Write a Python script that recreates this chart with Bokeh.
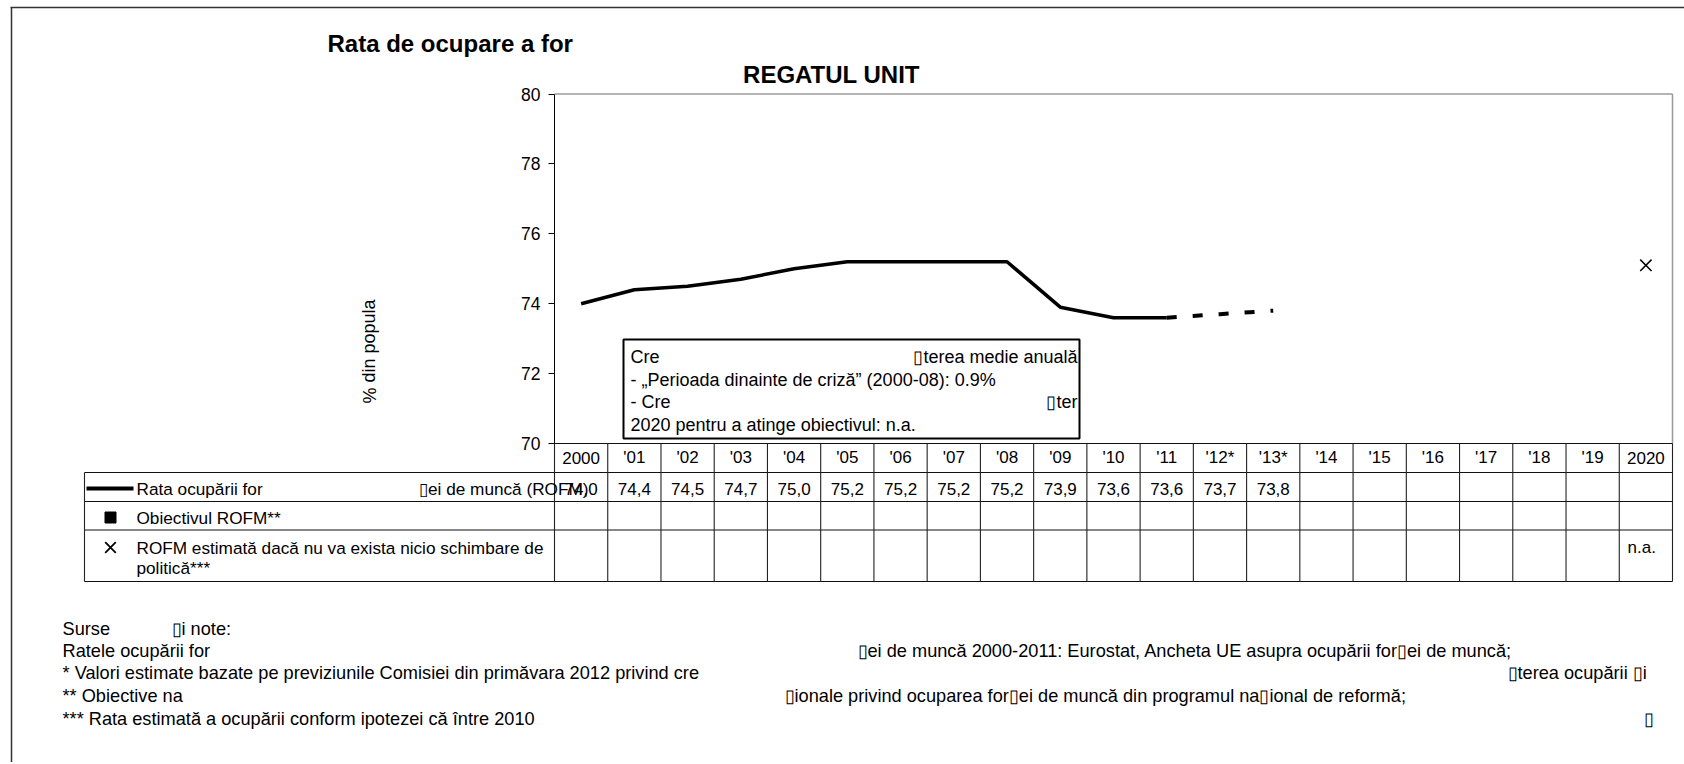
from bokeh.plotting import figure
from bokeh.models import Range1d, LinearAxis, FixedTicker, ColumnDataSource
from bokeh.core.properties import value
from bokeh.embed import file_html
from bokeh.resources import INLINE

# ---------------- data ----------------
years = ["2000", "'01", "'02", "'03", "'04", "'05", "'06", "'07", "'08", "'09",
         "'10", "'11", "'12*", "'13*", "'14", "'15", "'16", "'17", "'18", "'19", "2020"]
rofm_values = [74.0, 74.4, 74.5, 74.7, 75.0, 75.2, 75.2, 75.2, 75.2, 73.9,
               73.6, 73.6, 73.7, 73.8]
last_actual_year = "'11"
no_change_year = "2020"
no_change_value = 75.1
no_change_table_text = "n.a."
y_ticks = [70, 72, 74, 76, 78, 80]

title_text = "Rata de ocupare a for"
country_text = "REGATUL UNIT"
y_label = "% din popula"
legend_texts = ["Rata ocupării for", "\u25afei de muncă (ROFM)", "Obiectivul ROFM**",
                "ROFM estimată dacă nu va exista nicio schimbare de", "politică***"]
box_left_texts = ["Cre", "- „Perioada dinainte de criză” (2000-08): 0.9%", "- Cre",
                  "2020 pentru a atinge obiectivul: n.a."]
box_right_texts = ["\u25afterea medie anuală", "", "\u25after", ""]
notes_left = ["Surse", "Ratele ocupării for",
              "* Valori estimate bazate pe previziunile Comisiei din primăvara 2012 privind cre",
              "** Obiective na",
              "*** Rata estimată a ocupării conform ipotezei că între 2010"]
notes_right = ["\u25afi note:",
               "\u25afei de muncă 2000-2011: Eurostat, Ancheta UE asupra ocupării for\u25afei de muncă;",
               "\u25afterea ocupării \u25afi",
               "\u25afionale privind ocuparea for\u25afei de muncă din programul na\u25afional de reformă;",
               "\u25af"]

# ---------------- geometry (page pixels) ----------------
W, H, OFF = 1684, 762, 0
PX_LEFT, PX_RIGHT = 554.0, 1672.0
PY_TOP, PY_BOTTOM = 93.5, 443.0
YMIN, YMAX = 70, 80
ncol = len(years)
colw = (PX_RIGHT - PX_LEFT) / ncol
ppu = (PY_BOTTOM - PY_TOP) / (YMAX - YMIN)


def X(px):
    return (px - PX_LEFT) / colw - 0.5


def Y(py):
    return YMIN + (PY_BOTTOM - py) / ppu


FONT = value("Liberation Sans")

p = figure(width=W, height=H, x_range=Range1d(X(OFF), X(OFF + W)),
           y_range=Range1d(Y(OFF + H), Y(OFF)), x_axis_type=None, y_axis_type=None,
           toolbar_location=None, output_backend="svg", min_border=0)
p.outline_line_color = None
p.background_fill_color = "white"
p.border_fill_color = "white"

# y axis (inside the canvas, at the left edge of the plot area)
yax = LinearAxis(fixed_location=X(PX_LEFT), bounds=(YMIN, YMAX),
                 ticker=FixedTicker(ticks=y_ticks, minor_ticks=[]))
yax.axis_line_color = "black"
yax.axis_line_width = 1
yax.major_tick_line_color = "black"
yax.major_tick_out = 6
yax.major_tick_in = 0
yax.minor_tick_out = 0
yax.minor_tick_in = 0
yax.major_label_text_font = "Liberation Sans"
yax.major_label_text_font_size = "17.5px"
yax.major_label_text_color = "black"
yax.major_label_standoff = 8
p.add_layout(yax, "left")


def seg(x0, y0, x1, y1, color="black", width=1.0):
    p.segment(x0=[X(a) for a in x0], y0=[Y(a) for a in y0],
              x1=[X(a) for a in x1], y1=[Y(a) for a in y1],
              line_color=color, line_width=width)


def txt(xs, ys, texts, size, align="left", baseline="middle", style="normal",
        color="black", angle=0.0, data_x=False):
    src = ColumnDataSource(dict(x=list(xs) if data_x else [X(a) for a in xs],
                                y=[Y(a) for a in ys], text=list(texts)))
    p.text(x="x", y="y", text="text", source=src, text_font=FONT,
           text_font_size=value(size), text_align=align, text_baseline=baseline,
           text_font_style=style, text_color=color, angle=angle)


# outer frame (left and top edges visible)
seg([11, 10], [7, 7], [11, 1700], [780, 7], color="#333333", width=1.5)

# plot area border (top & right, gray)
seg([PX_LEFT, PX_RIGHT], [PY_TOP, PY_TOP], [PX_RIGHT, PX_RIGHT], [PY_TOP, PY_BOTTOM],
    color="#9a9a9a", width=1.5)

# table grid
TBL_LEFT = 84.0
rows = [443.0, 472.0, 501.0, 529.5, 581.0]
hx0 = [PX_LEFT] + [TBL_LEFT] * 4
hx1 = [PX_RIGHT] * 5
seg(hx0, rows, hx1, rows, color="#111111", width=1.2)
col_edges = [PX_LEFT + k * colw for k in range(ncol + 1)]
seg(col_edges, [rows[0]] * len(col_edges), col_edges, [rows[-1]] * len(col_edges),
    color="#222222", width=1.1)
seg([TBL_LEFT], [rows[1]], [TBL_LEFT], [rows[-1]], color="#222222", width=1.1)

# data line: actual (solid) and forecast (dashed)
idx = list(range(len(rofm_values)))
k_last = years.index(last_actual_year)
p.line(x=idx[:k_last + 1], y=rofm_values[:k_last + 1], line_color="black",
       line_width=3.5, line_join="round")
p.line(x=idx[k_last:], y=rofm_values[k_last:], line_color="black",
       line_width=4, line_dash="10 16")

# no-policy-change estimate marker
p.scatter(x=[years.index(no_change_year)], y=[no_change_value], marker="x", size=16,
          line_color="black", line_width=1.5)

# annotation box
p.quad(left=[X(623)], right=[X(1079)], top=[Y(339)], bottom=[Y(438)],
       fill_color="white", line_color="black", line_width=2)
box_y = [356, 379, 401, 424]
txt([630] * 4, box_y, box_left_texts, "18px")
txt([1077] * 4, box_y, box_right_texts, "18px", align="right")

# titles
txt([327], [43], [title_text], "24px", style="bold")
txt([831], [74], [country_text], "24px", align="center", style="bold")

# y label
txt([369], [403], [y_label], "18px", angle=1.5708)

# table header & values
txt(list(range(ncol)), [457] * ncol, years, "17px", align="center", data_x=True)
val_txt = [f"{v:.1f}".replace(".", ",") for v in rofm_values]
txt(idx, [488] * len(idx), val_txt, "17px", align="center", data_x=True)
txt([1627], [547], [no_change_table_text], "17px")

# legend column
seg([86], [488], [133], [488], color="black", width=4)
p.scatter(x=[X(110)], y=[Y(517)], marker="square", size=11, fill_color="black",
          line_color="black")
p.scatter(x=[X(110)], y=[Y(547)], marker="x", size=15, line_color="black",
          line_width=1.8)
txt([136], [488], [legend_texts[0]], "17.2px")
txt([588], [488], [legend_texts[1]], "17.2px", align="right")
txt([136, 136, 136], [517, 547, 567], legend_texts[2:], "17.2px")

# notes
note_y = [628, 650, 672, 695, 718]
txt([62] * 5, note_y, notes_left, "18.2px")
txt([171, 857, 1507, 784, 1643], note_y, notes_right, "18.2px")

open("out.html", "w").write(file_html(p, INLINE))
